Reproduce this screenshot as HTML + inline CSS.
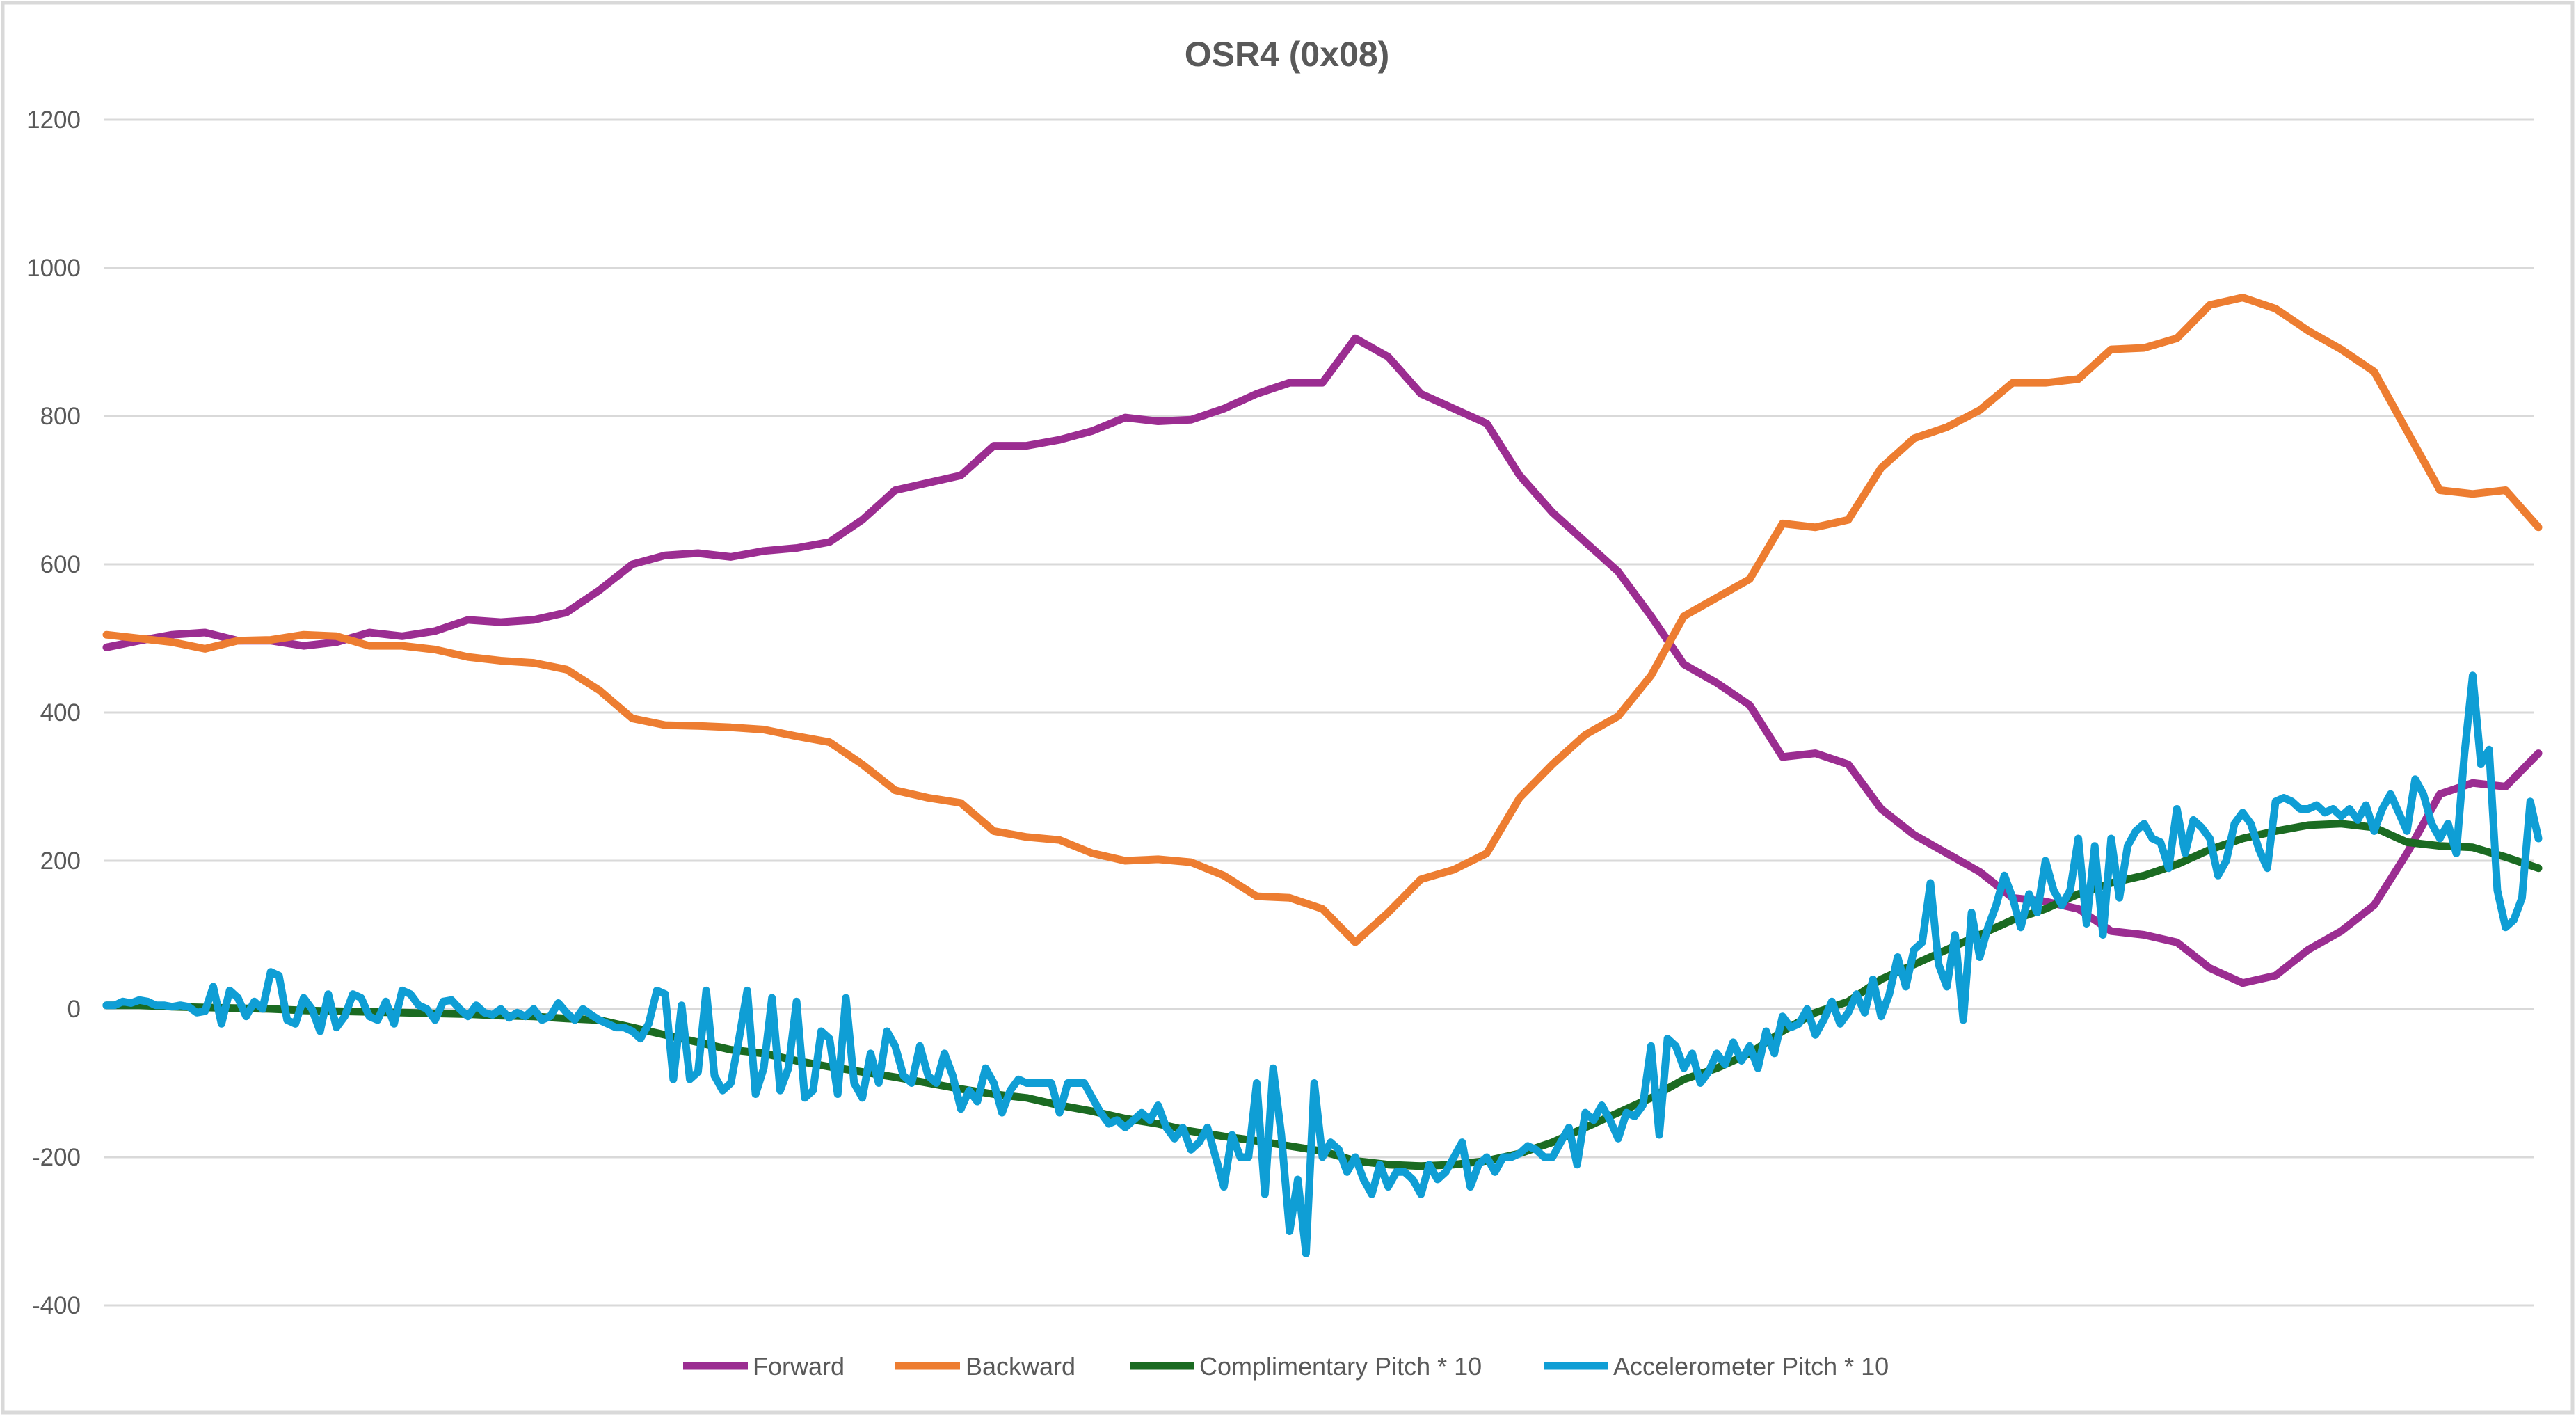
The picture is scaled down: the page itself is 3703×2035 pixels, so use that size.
<!DOCTYPE html>
<html><head><meta charset="utf-8"><style>
html,body{margin:0;padding:0;background:#fff}
svg{display:block;font-family:"Liberation Sans",sans-serif}
</style></head><body>
<svg id="chart" width="3703" height="2035" viewBox="0 0 3703 2035" xmlns="http://www.w3.org/2000/svg">
<rect x="4" y="4" width="3694" height="2026" fill="#fff" stroke="#d9d9d9" stroke-width="5"/>
<text x="1850" y="95" text-anchor="middle" font-size="50" font-weight="bold" fill="#595959">OSR4 (0x08)</text>
<g id="grid"></g><g id="series"></g>
<g font-size="36" fill="#595959">
<g><line x1="982" y1="1963" x2="1075" y2="1963" stroke="#9b2d91" stroke-width="11"/><text x="1082" y="1976">Forward</text></g>
<g><line x1="1287" y1="1963" x2="1380" y2="1963" stroke="#ed7d31" stroke-width="11"/><text x="1388" y="1976">Backward</text></g>
<g><line x1="1625" y1="1963" x2="1717" y2="1963" stroke="#1b6b22" stroke-width="11"/><text x="1724" y="1976">Complimentary Pitch * 10</text></g>
<g><line x1="2220" y1="1963" x2="2312" y2="1963" stroke="#0f9ed5" stroke-width="11"/><text x="2319" y="1976">Accelerometer Pitch * 10</text></g>
</g>
</svg>
<script>
const yTicks=[1200,1000,800,600,400,200,0,-200,-400];
const forward=[488,497,505,508,497,497,490,495,508,503,510,525,522,525,535,565,600,612,615,610,618,622,630,660,700,710,720,760,760,768,780,798,793,795,810,830,845,845,905,880,830,810,790,720,670,630,590,530,465,440,410,340,345,330,270,235,210,185,150,145,135,105,100,90,55,35,45,80,105,140,210,290,305,300,345];
const backward=[505,500,495,486,497,498,505,503,490,490,485,475,470,467,458,430,392,383,382,380,377,368,360,330,295,285,278,240,232,228,210,200,202,198,180,152,150,135,90,130,175,188,210,285,330,370,395,450,530,555,580,655,650,660,730,770,785,808,845,845,850,890,892,905,950,960,945,915,890,860,780,700,695,700,650];
const complimentary=[5,5,3,2,1,0,-2,-3,-4,-5,-6,-7,-9,-10,-13,-15,-25,-35,-45,-55,-60,-70,-78,-85,-92,-100,-108,-115,-120,-130,-138,-148,-155,-165,-172,-178,-185,-192,-205,-210,-212,-210,-205,-195,-180,-160,-140,-120,-95,-80,-60,-30,-5,10,40,60,80,100,120,135,155,170,180,195,215,230,240,248,250,245,225,220,218,205,190];
const accelerometer=[5,5,10,8,12,10,5,5,3,5,
3,-5,-3,30,-20,25,15,-10,10,0,
50,45,-15,-20,15,0,-30,20,-25,-10,
20,15,-10,-15,10,-20,25,20,5,0,
-15,10,12,0,-10,5,-5,-8,0,-12,
-5,-10,0,-15,-10,8,-5,-15,0,-8,
-15,-20,-25,-25,-30,-40,-20,25,20,-95,
5,-95,-85,25,-90,-110,-100,-40,25,-115,
-80,15,-110,-80,10,-120,-110,-30,-40,-115,
15,-100,-120,-60,-100,-30,-50,-90,-100,-50,
-90,-100,-60,-90,-135,-110,-125,-80,-100,-140,
-110,-95,-100,-100,-100,-100,-140,-100,-100,-100,
-120,-140,-155,-150,-160,-150,-140,-150,-130,-160,
-175,-160,-190,-180,-160,-200,-240,-170,-200,-200,
-100,-250,-80,-170,-300,-230,-330,-100,-200,-180,
-190,-220,-200,-230,-250,-210,-240,-220,-220,-230,
-250,-210,-230,-220,-200,-180,-240,-210,-200,-220,
-200,-200,-195,-185,-190,-200,-200,-180,-160,-210,
-140,-150,-130,-150,-175,-140,-145,-130,-50,-170,
-40,-50,-80,-60,-100,-85,-60,-75,-45,-70,
-50,-80,-30,-60,-10,-25,-20,0,-35,-15,
10,-20,-5,20,-5,40,-10,20,70,30,
80,90,170,60,30,100,-15,130,70,110,
140,180,150,110,155,130,200,160,140,160,
230,115,220,100,230,150,220,240,250,230,
225,190,270,210,255,245,230,180,200,250,
265,250,215,190,280,285,280,270,270,275,
265,270,260,270,255,275,240,270,290,265,
240,310,290,250,230,250,210,345,450,330,
350,160,110,120,150,280,230];

const NS="http://www.w3.org/2000/svg";
const X0=153,X1=3649,GX0=150,GX1=3643;
function yScale(v){return 1450-v*213/200;}
function xScale(t){return X0+t*(X1-X0);}
const grid=document.getElementById('grid');
yTicks.forEach(v=>{
  const l=document.createElementNS(NS,'line');
  
  
  l.setAttribute('x1',GX0);l.setAttribute('x2',GX1);
  l.setAttribute('y1',yScale(v));l.setAttribute('y2',yScale(v));
  l.setAttribute('stroke','#d9d9d9');l.setAttribute('stroke-width','3');
  grid.appendChild(l);
  const t=document.createElementNS(NS,'text');
  
  
  t.setAttribute('x',116);t.setAttribute('y',yScale(v)+12);
  t.setAttribute('text-anchor','end');t.setAttribute('font-size','35');t.setAttribute('fill','#595959');
  t.textContent=String(v);
  grid.appendChild(t);
});
const ser=document.getElementById('series');
function draw(arr,color,name){
  const n=arr.length;
  const pts=arr.map((v,i)=>xScale(i/(n-1)).toFixed(1)+','+yScale(v).toFixed(1)).join(' ');
  const p=document.createElementNS(NS,'polyline');
  
  
  p.setAttribute('points',pts);p.setAttribute('fill','none');
  p.setAttribute('stroke',color);p.setAttribute('stroke-width','11');
  p.setAttribute('stroke-linejoin','round');p.setAttribute('stroke-linecap','round');
  ser.appendChild(p);
}
draw(forward,'#9b2d91','forward-line');
draw(backward,'#ed7d31','backward-line');
draw(complimentary,'#1b6b22','complimentary-pitch-line');
draw(accelerometer,'#0f9ed5','accelerometer-pitch-line');
</script>
</body></html>
